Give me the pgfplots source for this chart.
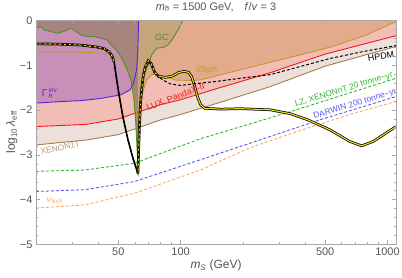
\documentclass[border=0pt]{standalone}
\usepackage{fontspec}
\setmainfont{Liberation Sans}
\usepackage{pgfplots}
\pgfplotsset{compat=1.18}
\definecolor{cbeige}{HTML}{ECE1DA}
\definecolor{cpink}{HTML}{F2BDB4}
\definecolor{csalmon}{HTML}{E3AA8E}
\definecolor{cpurple}{HTML}{C890B8}
\definecolor{cmauve}{HTML}{A7857E}
\definecolor{colive}{HTML}{C7A57A}
\definecolor{lxenon}{HTML}{A77A52}
\definecolor{lred}{HTML}{EE1C1C}
\definecolor{ldsph}{HTML}{C8952D}
\definecolor{lgamma}{HTML}{5B22D6}
\definecolor{lgc}{HTML}{4D8E2E}
\definecolor{llz}{HTML}{2EB82E}
\definecolor{ldarwin}{HTML}{5A5AF0}
\definecolor{lnu}{HTML}{FFA860}
\definecolor{lyel}{HTML}{EDE21A}
\definecolor{txt}{HTML}{555555}
\definecolor{frame}{HTML}{A8A8A8}
\begin{document}
\begin{tikzpicture}
\useasboundingbox (-36bp,-33.5bp) rectangle (366bp,244.3bp);
\begin{axis}[
  at={(0,0)}, anchor=south west,
  scale only axis, width=360bp, height=223.8bp,
  xmode=log, xmin=20, xmax=1100, ymin=-5, ymax=0,
  xtick={50,100,500,1000}, xticklabels={50,100,500,1000},
  minor xtick={20,30,40,60,70,80,90,200,300,400,600,700,800,900},
  ytick={-5,-4,-3,-2,-1,0}, yticklabels={−5,−4,−3,−2,−1,0},
  minor y tick num=4,
  axis line style={frame}, tick style={frame},
  major tick length=4bp, minor tick length=2.5bp,
  tick label style={font=\fontsize{11}{12}\selectfont, text=txt},
  axis on top,
  xlabel={\textit{m}\textsubscript{\textit{S}} (GeV)},
  xlabel style={at={(axis description cs:0.5,-0.11)}, anchor=base, font=\fontsize{12}{13}\selectfont, text=txt},
  ylabel={log\textsubscript{10}\,\textit{λ}\textsubscript{eff}},
  ylabel style={at={(axis description cs:-0.067,0.5)}, anchor=center, rotate=0, font=\fontsize{12}{13}\selectfont, text=txt},
]
% ---- excluded regions ----
\addplot[fill=cbeige, draw=none] coordinates {(20,-2.78) (35,-2.67) (50,-2.55) (62,-2.40) (80,-2.22) (100,-2.10) (150,-1.85) (270,-1.48) (500,-1.02) (1100,-0.58) (1100,0) (20,0)} -- cycle;
\addplot[fill=cpink, draw=none] coordinates {(20,-2.37) (35,-2.32) (50,-2.20) (62,-2.05) (80,-1.88) (100,-1.77) (150,-1.52) (270,-1.17) (500,-0.75) (1100,-0.34) (1100,0) (20,0)} -- cycle;
\addplot[fill=csalmon, draw=none] coordinates {(20,-0.70) (26.5,-0.70) (33.1,-0.71) (41.3,-0.73) (45.1,-0.75) (48,-0.79) (51.5,-0.90) (55.5,-1.14) (58.3,-1.44) (60.2,-1.81) (61.4,-2.11) (62.3,-2.30) (62.9,-2.2) (63.7,-1.98) (65.5,-1.62) (68.5,-1.33) (72.4,-1.21) (77.0,-1.20) (84.8,-1.26) (94.7,-1.33) (111.8,-1.34) (124.9,-1.325) (179.9,-1.14) (262,-0.95) (377.6,-0.77) (543.8,-0.58) (792,-0.32) (1056,-0.06) (1100,-0.03) (1100,0) (20,0)} -- cycle;
\addplot[fill=cpurple, draw=none] coordinates {(20,-1.845) (26.5,-1.81) (33.1,-1.79) (41.3,-1.74) (51.5,-1.66) (57,-1.55) (59.2,-1.40) (61.3,-1.10) (62.1,-0.70) (62.45,-0.3) (62.5,0) (20,0)} -- cycle;
\addplot[fill=cmauve, draw=none] coordinates {(20,-0.17) (21.1,-0.134) (21.9,-0.208) (23.6,-0.246) (25.4,-0.282) (27.3,-0.246) (29.4,-0.170) (30.5,-0.208) (32.8,-0.319) (35.4,-0.357) (38.1,-0.357) (41.0,-0.393) (44.1,-0.431) (46.1,-0.543) (48.7,-0.655) (51.5,-0.804) (54.5,-1.028) (57.5,-1.325) (59.5,-1.77) (60.6,-2.22) (61.5,-2.8) (62.0,-3.1) (62.5,-2.95) (62.5,0) (20,0)} -- cycle;
\addplot[fill=colive, draw=none] coordinates {(62.5,-2.95) (62.6,-2.8) (63.2,-2.2) (63.9,-1.6) (65.9,-1.25) (69.8,-0.99) (72.5,-0.766) (76.5,-0.617) (82.3,-0.603) (87.0,-0.543) (92.0,-0.393) (97.2,-0.208) (102.8,0.016) (62.5,0.016)} -- cycle;
% ---- boundary lines ----
\addplot[lxenon, line width=0.9bp] coordinates {(20,-2.78) (35,-2.67) (50,-2.55) (62,-2.40) (80,-2.22) (100,-2.10) (150,-1.85) (270,-1.48) (500,-1.02) (1100,-0.58)};
\addplot[lred, line width=0.9bp] coordinates {(20,-2.37) (35,-2.32) (50,-2.20) (62,-2.05) (80,-1.88) (100,-1.77) (150,-1.52) (270,-1.17) (500,-0.75) (1100,-0.34)};
\addplot[ldsph, line width=0.9bp] coordinates {(20,-0.70) (26.5,-0.70) (33.1,-0.71) (41.3,-0.73) (45.1,-0.75) (48,-0.79) (51.5,-0.90) (55.5,-1.14) (58.3,-1.44) (60.2,-1.81) (61.4,-2.11) (62.3,-2.30) (62.9,-2.2) (63.7,-1.98) (65.5,-1.62) (68.5,-1.33) (72.4,-1.21) (77.0,-1.20) (84.8,-1.26) (94.7,-1.33) (111.8,-1.34) (124.9,-1.325) (179.9,-1.14) (262,-0.95) (377.6,-0.77) (543.8,-0.58) (792,-0.32) (1056,-0.06) (1100,-0.03)};
\addplot[lgamma, line width=0.9bp] coordinates {(20,-1.845) (26.5,-1.81) (33.1,-1.79) (41.3,-1.74) (51.5,-1.66) (57,-1.55) (59.2,-1.40) (61.3,-1.10) (62.1,-0.70) (62.45,-0.3) (62.5,0)};
\addplot[lgc, line width=0.9bp] coordinates {(20,-0.17) (21.1,-0.134) (21.9,-0.208) (23.6,-0.246) (25.4,-0.282) (27.3,-0.246) (29.4,-0.170) (30.5,-0.208) (32.8,-0.319) (35.4,-0.357) (38.1,-0.357) (41.0,-0.393) (44.1,-0.431) (46.1,-0.543) (48.7,-0.655) (51.5,-0.804) (54.5,-1.028) (57.5,-1.325) (59.5,-1.77) (60.6,-2.22) (61.5,-2.8) (62.0,-3.1) (62.6,-2.8) (63.2,-2.2) (63.9,-1.6) (65.9,-1.25) (69.8,-0.99) (72.5,-0.766) (76.5,-0.617) (82.3,-0.603) (87.0,-0.543) (92.0,-0.393) (97.2,-0.208) (102.8,0.016)};
% ---- projections ----
\addplot[llz, line width=0.9bp, dash pattern=on 3bp off 2bp] coordinates {(20,-3.37) (34.4,-3.34) (59.7,-3.19) (124.9,-2.64) (217,-2.31) (377.6,-1.97) (1100,-1.29)};
\addplot[ldarwin, line width=0.9bp, dash pattern=on 3bp off 2bp] coordinates {(20,-3.82) (34.4,-3.78) (59.7,-3.60) (124.9,-3.11) (217,-2.74) (471,-2.22) (1100,-1.70)};
\addplot[lnu, line width=0.9bp, dash pattern=on 3bp off 2bp] coordinates {(20,-4.19) (34.4,-4.12) (59.7,-3.86) (124.9,-3.34) (217,-2.84) (377.6,-2.46) (656,-2.10) (1100,-1.81)};
% ---- relic lines ----
\addplot[black, line width=2.6bp] coordinates {(20,-0.52) (26.5,-0.53) (33.1,-0.55) (39.1,-0.59) (42.7,-0.63) (45.1,-0.70) (46.6,-0.79) (47.7,-0.92)};
\addplot[lyel, line width=1.1bp] coordinates {(20,-0.52) (26.5,-0.53) (33.1,-0.55) (39.1,-0.59) (42.7,-0.63) (45.1,-0.70) (46.6,-0.79) (47.7,-0.92)};
\addplot[black, line width=1.6bp] coordinates {(47.7,-0.92) (48.7,-1.21) (50.4,-1.66) (52.7,-2.17) (55.7,-2.67) (58.8,-3.07) (61.6,-3.36) (62.2,-3.42)};
\addplot[black, line width=2.6bp] coordinates {(62.2,-3.42) (62.7,-2.89) (63.3,-2.33) (64.0,-1.88) (64.8,-1.55) (66.0,-1.24) (67.5,-1.03) (69.8,-0.90) (72.2,-0.97) (74.8,-1.15) (78.2,-1.25) (84.5,-1.27) (91.4,-1.24) (97.9,-1.16) (104.6,-1.135) (109.3,-1.16) (113.0,-1.25) (116.8,-1.46) (120.8,-1.705) (124.9,-1.88) (130.5,-1.96) (155.8,-1.98) (194.4,-1.97) (270.8,-1.995) (338,-2.08) (412.6,-2.22) (526,-2.44) (656,-2.70) (750,-2.80) (856,-2.70) (988,-2.51) (1100,-2.37)};
\addplot[lyel, line width=1.1bp] coordinates {(62.2,-3.42) (62.7,-2.89) (63.3,-2.33) (64.0,-1.88) (64.8,-1.55) (66.0,-1.24) (67.5,-1.03) (69.8,-0.90) (72.2,-0.97) (74.8,-1.15) (78.2,-1.25) (84.5,-1.27) (91.4,-1.24) (97.9,-1.16) (104.6,-1.135) (109.3,-1.16) (113.0,-1.25) (116.8,-1.46) (120.8,-1.705) (124.9,-1.88) (130.5,-1.96) (155.8,-1.98) (194.4,-1.97) (270.8,-1.995) (338,-2.08) (412.6,-2.22) (526,-2.44) (656,-2.70) (750,-2.80) (856,-2.70) (988,-2.51) (1100,-2.37)};
\addplot[black, line width=1bp, dash pattern=on 3bp off 2bp] coordinates {(20,-0.52) (26.5,-0.53) (33.1,-0.55) (39.1,-0.59) (42.7,-0.63) (45.1,-0.70) (46.6,-0.79) (47.7,-0.92) (48.7,-1.21) (50.4,-1.66) (52.7,-2.17) (55.7,-2.67) (58.8,-3.07) (61.6,-3.36) (62.2,-3.42) (62.7,-2.89) (63.3,-2.33) (64.0,-1.88) (64.8,-1.55) (66.0,-1.24) (67.5,-1.03) (69.8,-0.90) (72.2,-0.97) (74.8,-1.15) (78.2,-1.25) (82,-1.33) (89.6,-1.42) (100,-1.45) (124.9,-1.40) (155.8,-1.35) (194.4,-1.29) (270.8,-1.21) (377.6,-1.03) (526,-0.85) (750,-0.70) (1100,-0.56)};
% ---- labels ----
\node[text=lgc, font=\fontsize{9}{10}\selectfont] at (axis cs:81.2,-0.368) {GC};
\node[text=ldsph, font=\fontsize{9}{10}\selectfont] at (axis cs:133.7,-1.11) {dSph};
\node[text=lred, font=\fontsize{9}{10}\selectfont, rotate=21] at (axis cs:94.7,-1.716) {LUX,\hspace{0.22em}PandaX-II};
\node[text=lxenon!80, font=\fontsize{8.5}{10}\selectfont, rotate=12] at (axis cs:26.2,-2.845) {XENON1T};
\node[text=black, font=\fontsize{9}{10}\selectfont, rotate=9] at (axis cs:931,-0.80) {HPDM};
\node[text=llz, font=\fontsize{8.5}{10}\selectfont, rotate=17] at (axis cs:616,-1.55) {LZ, XENONnT 20 tonne−yr};
\node[text=ldarwin, font=\fontsize{8.5}{10}\selectfont, rotate=17] at (axis cs:697,-1.87) {DARWIN 200 tonne−yr};
\node[text=lnu, font=\fontsize{8.5}{10}\selectfont, rotate=8] at (axis cs:24.7,-4.02) {\textit{ν}\textsubscript{floor}};
\node[text=lgamma, font=\fontsize{10}{11}\selectfont, anchor=west, inner sep=0pt] (gam) at (axis cs:21.3,-1.63) {Γ};
\node[text=lgamma, font=\fontsize{6.5}{7}\selectfont, anchor=south west, inner sep=0pt] at ([xshift=0.8bp,yshift=0.6bp]gam.east) {inv};
\node[text=lgamma, font=\fontsize{6.5}{7}\selectfont, anchor=north west, inner sep=0pt] at ([xshift=0.8bp,yshift=-0.6bp]gam.east) {\textit{\~h}};
\end{axis}
\node[text=txt, font=\fontsize{11}{12}\selectfont] at (180bp,237.2bp) {\textit{m}\textsubscript{\textit{\~h}} = 1500 GeV,\quad \textit{f}/\textit{v} = 3};
\end{tikzpicture}
\end{document}
